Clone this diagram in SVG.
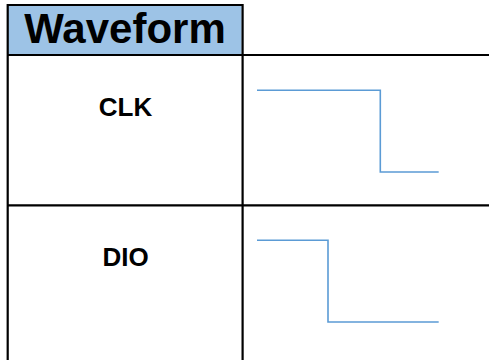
<svg xmlns="http://www.w3.org/2000/svg" width="489" height="360" viewBox="0 0 489 360">
  <style>
    .grid { stroke: #000; stroke-width: 2.2; fill: none; }
    .wave { stroke: #5B9BD5; stroke-width: 1.6; fill: none; }
    .label { font-family: "Liberation Sans", Arial, sans-serif; font-weight: bold; fill: #000; text-anchor: middle; }
  </style>
  <rect width="489" height="360" fill="#fff"/>

  <!-- header cell -->
  <g id="header">
    <rect x="7.7" y="5" width="234" height="50" fill="#9DC3E6"/>
    <text class="label" x="125" y="43" font-size="42">Waveform</text>
  </g>

  <!-- table grid lines -->
  <g id="connectors">
    <path class="grid" d="M6.6 5 H242.6 M7.7 4 V360 M242.6 4 V360 M6.6 55 H489 M6.6 205.3 H489"/>
  </g>

  <g id="clk">
    <text class="label" x="125.5" y="115.5" font-size="26">CLK</text>
    <polyline class="wave" points="257,90.3 380.3,90.3 380.3,172 438.7,172"/>
  </g>

  <g id="dio">
    <text class="label" x="125.5" y="265.5" font-size="26">DIO</text>
    <polyline class="wave" points="257,240.3 328,240.3 328,322 438.7,322"/>
  </g>
</svg>
